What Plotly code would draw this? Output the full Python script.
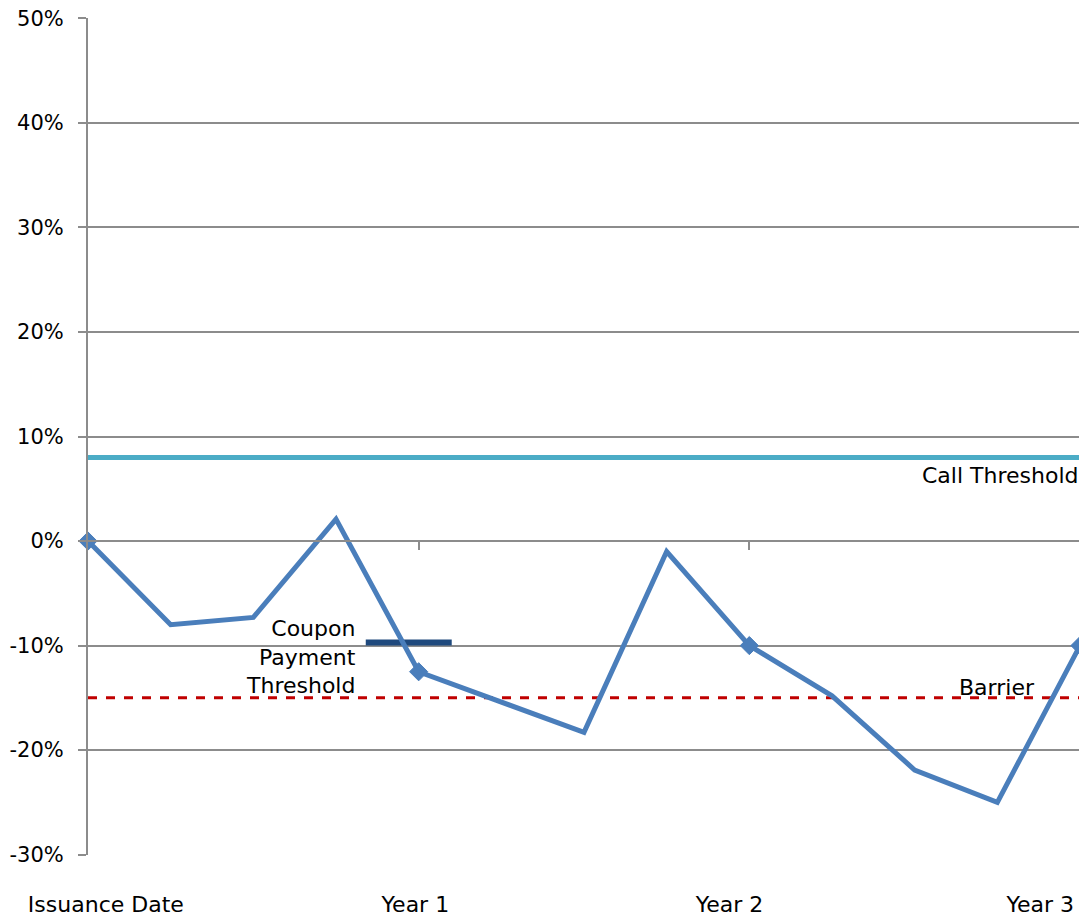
import plotly.graph_objects as go

# quarterly observations, in years since issuance
years = [0, 0.25, 0.5, 0.75, 1, 1.25, 1.5, 1.75, 2, 2.25, 2.5, 2.75, 3]
perf = [0, -8.0, -7.3, 2.1, -12.5, -15.4, -18.3, -1.0, -10.0, -14.8, -21.9, -25.0, -10.0]

call_threshold = 8.0
barrier = -15.0
coupon_threshold = -9.7
coupon_span = [0.84, 1.10]

x_labels = ["Issuance Date", "Year 1", "Year 2", "Year 3"]
x_label_pos = [0.054, 0.99, 1.94, 2.88]
y_ticks = [-30, -20, -10, 0, 10, 20, 30, 40, 50]

FONT = "DejaVu Sans"
GRID = "#8c8c8c"
BLUE = "#4A7EBB"

fig = go.Figure()

fig.add_trace(go.Scatter(x=[0, 3], y=[call_threshold] * 2, mode="lines",
                         line=dict(color="#4BACC6", width=5), hoverinfo="skip"))
fig.add_trace(go.Scatter(x=[0, 3], y=[barrier] * 2, mode="lines",
                         line=dict(color="#C00000", width=3, dash="dash"), hoverinfo="skip"))
fig.add_trace(go.Scatter(x=coupon_span, y=[coupon_threshold] * 2, mode="lines",
                         line=dict(color="#1F497D", width=6), hoverinfo="skip"))

fig.add_trace(go.Scatter(x=years, y=perf, mode="lines", cliponaxis=False,
                         line=dict(color=BLUE, width=5)))
# diamonds only on the yearly observation dates
fig.add_trace(go.Scatter(x=years[::4], y=perf[::4], mode="markers", cliponaxis=False,
                         marker=dict(symbol="diamond", size=14, color=BLUE, opacity=1,
                                     line=dict(width=1, color=BLUE))))

# zero line with yearly tick marks
fig.add_trace(go.Scatter(x=[0, 3], y=[0, 0], xaxis="x2", mode="lines",
                         line=dict(color="rgba(0,0,0,0)"), hoverinfo="skip"))

fig.add_annotation(x=3, y=call_threshold, text="Call Threshold", showarrow=False,
                   xanchor="right", yanchor="top", yshift=-4,
                   font=dict(family=FONT, size=22, color="black"))
fig.add_annotation(x=2.87, y=barrier, text="Barrier", showarrow=False,
                   xanchor="right", yanchor="bottom", yshift=-4,
                   font=dict(family=FONT, size=22, color="black"))
fig.add_annotation(x=0.817, y=-11.1, text="Coupon<br>Payment<br>Threshold", showarrow=False,
                   xanchor="right", yanchor="middle", align="right",
                   font=dict(family=FONT, size=22, color="black"))

# page body adds an 8px margin, so the figure is shrunk by that much
fig.update_layout(
    width=1079, height=915,
    margin=dict(l=80, r=7, t=10, b=68),
    plot_bgcolor="white", paper_bgcolor="white",
    showlegend=False,
    font=dict(family=FONT, size=21, color="black"),
    xaxis=dict(range=[0, 3], tickvals=x_label_pos, ticktext=x_labels,
               showgrid=False, zeroline=False, showline=False, ticks="",
               ticklabelstandoff=34, tickfont=dict(size=22), automargin=False),
    xaxis2=dict(range=[0, 3], overlaying="x", anchor="free", position=0.375,
                side="bottom", tickvals=[1, 2, 3], ticks="outside", ticklen=8,
                tickwidth=2, tickcolor=GRID, showticklabels=False,
                showline=True, linecolor=GRID, linewidth=2, showgrid=False, zeroline=False),
    yaxis=dict(range=[-30.03, 50.03], tickvals=y_ticks,
               ticktext=[f"{v}%" for v in y_ticks],
               showgrid=True, gridcolor=GRID, gridwidth=2,
               zeroline=False, showline=True, linecolor=GRID, linewidth=2,
               ticks="outside", ticklen=8, tickwidth=2, tickcolor=GRID,
               ticklabelstandoff=10, ticklabeloverflow="allow", automargin=False),
)

fig.write_html("out.html")
